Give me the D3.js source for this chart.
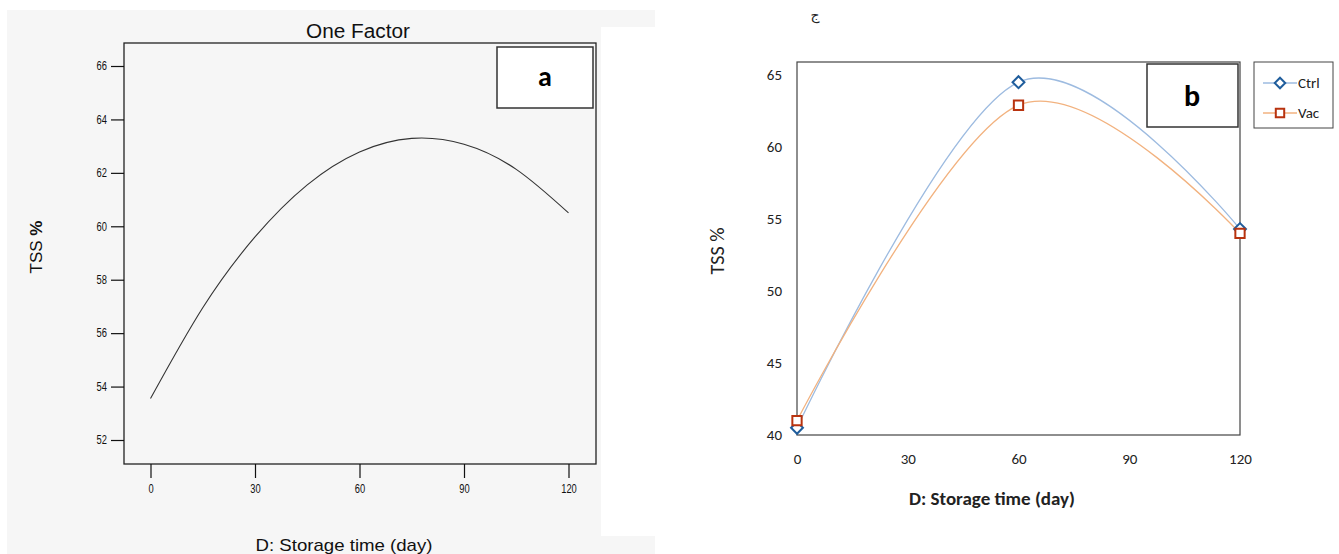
<!DOCTYPE html>
<html>
<head>
<meta charset="utf-8">
<script src="https://cdn.jsdelivr.net/npm/d3@7"></script>
<style>
  body { margin: 0; background: #fff; }
  svg { display: block; }
</style>
</head>
<body>
<script>
// panel a: fitted response
var factorDays = [0, 15, 30, 45, 60, 75, 90, 105, 120];
var factorTSS = [53.55, 56.95, 59.6, 61.55, 62.78, 63.29, 63.07, 62.13, 60.5];
var leftYTicks = [52, 54, 56, 58, 60, 62, 64, 66];

// panel b: measured points
var storageDays = [0, 60, 120];
var ctrlTSS = [40.5, 64.5, 54.3];
var vacTSS = [41.0, 62.9, 54.0];
var rightYTicks = [40, 45, 50, 55, 60, 65];

var xTicks = [0, 30, 60, 90, 120];
var seriesNames = ["Ctrl", "Vac"];

var svg = d3.select("body")
    .append("svg")
    .attr("width", 1339)
    .attr("height", 554);

var arial = "'Liberation Sans', Arial, sans-serif";
var sans = "Carlito, 'Open Sans', 'Noto Sans', sans-serif";

// ---------- panel a ----------
var a = svg.append("g");

a.append("rect").attr("x", 7).attr("y", 10).attr("width", 648).attr("height", 544).attr("fill", "#f6f6f6");
a.append("rect").attr("x", 601).attr("y", 27).attr("width", 60).attr("height", 509).attr("fill", "#fff");

var boxA = {left: 124, right: 596, top: 43, bottom: 464};

var xA = d3.scaleLinear().domain([0, 120]).range([150.5, 568.5]);
var yA = d3.scaleLinear().domain([52, 66]).range([440, 66]);

a.append("rect")
    .attr("x", boxA.left).attr("y", boxA.top)
    .attr("width", boxA.right - boxA.left).attr("height", boxA.bottom - boxA.top)
    .attr("fill", "#f6f6f6").attr("stroke", "#222").attr("stroke-width", 1.3);

var yAxisA = a.append("g")
    .attr("transform", "translate(" + boxA.left + ",0)")
    .call(d3.axisLeft(yA).tickValues(leftYTicks).tickSize(13).tickPadding(4));
yAxisA.select(".domain").remove();

var xAxisA = a.append("g")
    .attr("transform", "translate(0," + boxA.bottom + ")")
    .call(d3.axisBottom(xA).tickValues(xTicks).tickSize(14).tickPadding(6));
xAxisA.select(".domain").remove();

a.selectAll(".tick line").attr("stroke", "#111").attr("stroke-width", 1.2);
// condensed look of the original labels
a.selectAll(".tick text")
    .attr("font-family", arial)
    .attr("font-size", "12px")
    .attr("fill", "#111")
    .attr("lengthAdjust", "spacingAndGlyphs")
    .attr("textLength", function(d) { return String(d).length * 5.2; });

a.append("path")
    .datum(d3.zip(factorDays, factorTSS))
    .attr("fill", "none")
    .attr("stroke", "#333")
    .attr("stroke-width", 1.1)
    .attr("d", d3.line()
        .x(function(d) { return xA(d[0]); })
        .y(function(d) { return yA(d[1]); })
        .curve(d3.curveNatural));

a.append("text")
    .attr("x", 358).attr("y", 38)
    .attr("text-anchor", "middle")
    .attr("font-family", arial)
    .attr("font-size", "20px")
    .attr("fill", "#111")
    .attr("lengthAdjust", "spacingAndGlyphs")
    .attr("textLength", 104)
    .text("One Factor");

a.append("text")
    .attr("x", 344).attr("y", 551)
    .attr("text-anchor", "middle")
    .attr("font-family", arial)
    .attr("font-size", "17px")
    .attr("fill", "#111")
    .attr("lengthAdjust", "spacingAndGlyphs")
    .attr("textLength", 177)
    .text("D: Storage time (day)");

var tssA = a.append("text")
    .attr("transform", "translate(42,247) rotate(-90)")
    .attr("text-anchor", "middle")
    .attr("font-family", arial)
    .attr("font-size", "17px")
    .attr("fill", "#111");
tssA.append("tspan").text("TSS ");
tssA.append("tspan").attr("font-weight", "bold").text("%");

a.append("rect")
    .attr("x", 497).attr("y", 47).attr("width", 96).attr("height", 61)
    .attr("fill", "#fff").attr("stroke", "#333").attr("stroke-width", 1.5);
a.append("text")
    .attr("x", 545).attr("y", 86)
    .attr("text-anchor", "middle")
    .attr("font-family", sans)
    .attr("font-weight", "bold")
    .attr("font-size", "28px")
    .attr("fill", "#000")
    .text("a");

// ---------- panel b ----------
var b = svg.append("g");

var boxB = {left: 797, right: 1240, top: 62, bottom: 435};

var xB = d3.scaleLinear().domain([0, 120]).range([797, 1240]);
var yB = d3.scaleLinear().domain([40, 65]).range([435, 75]);

b.append("rect")
    .attr("x", boxB.left).attr("y", boxB.top)
    .attr("width", boxB.right - boxB.left).attr("height", boxB.bottom - boxB.top)
    .attr("fill", "#fff").attr("stroke", "#444").attr("stroke-width", 1.2);

var yAxisB = b.append("g")
    .attr("transform", "translate(" + boxB.left + ",0)")
    .call(d3.axisLeft(yB).tickValues(rightYTicks).tickSize(0).tickPadding(15));
yAxisB.select(".domain").remove();

var xAxisB = b.append("g")
    .attr("transform", "translate(0," + boxB.bottom + ")")
    .call(d3.axisBottom(xB).tickValues(xTicks).tickSize(0).tickPadding(18));
xAxisB.select(".domain").remove();

b.selectAll(".tick text")
    .attr("font-family", sans)
    .attr("font-size", "15px")
    .attr("fill", "#222");

var series = [
    {name: seriesNames[0], values: ctrlTSS, line: "#9dbbe0", mark: "#1f5d9c", shape: d3.symbolDiamond2},
    {name: seriesNames[1], values: vacTSS, line: "#f2b27f", mark: "#b8330f", shape: d3.symbolSquare2}
];

var smooth = d3.line()
    .x(function(d) { return xB(d[0]); })
    .y(function(d) { return yB(d[1]); })
    .curve(d3.curveCardinal.tension(0));

series.forEach(function(s) {
    b.append("path")
        .datum(d3.zip(storageDays, s.values))
        .attr("fill", "none")
        .attr("stroke", s.line)
        .attr("stroke-width", 1.3)
        .attr("d", smooth);
});

series.forEach(function(s) {
    b.selectAll(null)
        .data(d3.zip(storageDays, s.values))
        .enter()
        .append("path")
        .attr("transform", function(d) { return "translate(" + xB(d[0]) + "," + yB(d[1]) + ")"; })
        .attr("d", d3.symbol().type(s.shape).size(s.shape === d3.symbolSquare2 ? 110 : 90))
        .attr("fill", "#fff")
        .attr("stroke", s.mark)
        .attr("stroke-width", 2);
});

b.append("text")
    .attr("transform", "translate(724,251) rotate(-90)")
    .attr("text-anchor", "middle")
    .attr("font-family", sans)
    .attr("font-size", "20px")
    .attr("fill", "#222")
    .text("TSS %");

b.append("text")
    .attr("x", 992).attr("y", 505)
    .attr("text-anchor", "middle")
    .attr("font-family", sans)
    .attr("font-weight", "bold")
    .attr("font-size", "19px")
    .attr("fill", "#222")
    .text("D: Storage time (day)");

b.append("rect")
    .attr("x", 1147).attr("y", 64).attr("width", 91).attr("height", 63)
    .attr("fill", "#fff").attr("stroke", "#333").attr("stroke-width", 1.5);
b.append("text")
    .attr("x", 1192).attr("y", 106)
    .attr("text-anchor", "middle")
    .attr("font-family", sans)
    .attr("font-weight", "bold")
    .attr("font-size", "30px")
    .attr("fill", "#000")
    .text("b");

// legend
var legend = b.append("g").attr("transform", "translate(1254,62)");
legend.append("rect")
    .attr("width", 79).attr("height", 66)
    .attr("fill", "#fff").attr("stroke", "#444").attr("stroke-width", 1);

var item = legend.selectAll(".item")
    .data(series)
    .enter()
    .append("g")
    .attr("transform", function(d, i) { return "translate(0," + (21 + i * 30) + ")"; });

item.append("line")
    .attr("x1", 9).attr("x2", 43)
    .attr("stroke", function(d) { return d.line; })
    .attr("stroke-width", 1.3);
item.append("path")
    .attr("transform", "translate(26,0)")
    .attr("d", function(d) { return d3.symbol().type(d.shape).size(d.shape === d3.symbolSquare2 ? 90 : 70)(); })
    .attr("fill", "#fff")
    .attr("stroke", function(d) { return d.mark; })
    .attr("stroke-width", 2);
item.append("text")
    .attr("x", 44).attr("y", 5)
    .attr("font-family", sans)
    .attr("font-size", "15px")
    .attr("fill", "#222")
    .text(function(d) { return d.name; });

// fragment of text cut off at top of the page
svg.append("text")
    .attr("x", 815).attr("y", 20)
    .attr("text-anchor", "middle")
    .attr("font-family", "'DejaVu Sans', sans-serif")
    .attr("font-size", "14px")
    .attr("fill", "#222")
    .text("ج");
</script>
</body>
</html>
